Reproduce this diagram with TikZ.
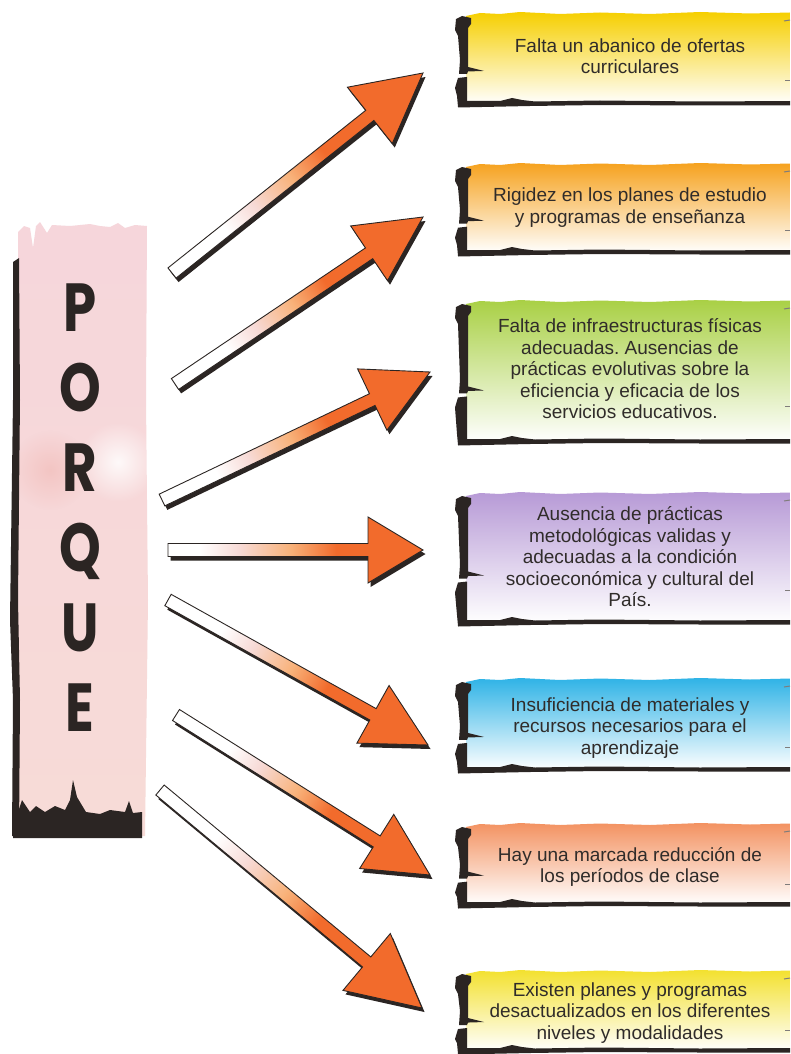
\documentclass[tikz,border=0pt]{standalone}
\usepackage{fontspec}
\setmainfont{Liberation Sans}
\newfontfamily\porquefont{Poppins}[FakeStretch=0.78]
\usetikzlibrary{calc,fadings}
\tikzfading[name=glowfade, inner color=transparent!0, outer color=transparent!100]
\definecolor{arroworange}{HTML}{F26B2C}
\definecolor{arrowlight}{HTML}{F8B27A}
\definecolor{arrowpink}{HTML}{F7DAD6}
\definecolor{inkdark}{HTML}{2B2523}
\definecolor{textgray}{HTML}{302C2A}
\definecolor{porquepink}{HTML}{F6D6DB}
\definecolor{porquepeach}{HTML}{F9E0D3}
\definecolor{porquerose}{HTML}{F2BDBA}
\definecolor{cA}{HTML}{F6CF00}
\definecolor{cB}{HTML}{F6A21E}
\definecolor{cC}{HTML}{A9D045}
\definecolor{cD}{HTML}{B79AD6}
\definecolor{cE}{HTML}{2FB3E6}
\definecolor{cF}{HTML}{F39261}
\definecolor{cG}{HTML}{F3E12F}
\pgfdeclarehorizontalshading{arrowshade}{100bp}{color(0bp)=(white); color(31bp)=(white); color(39bp)=(arrowpink); color(49bp)=(arrowlight); color(58bp)=(arroworange); color(100bp)=(arroworange)}
\newcommand\fatarrow[5]{%
  \coordinate (fb) at ($(#2)!#3pt!(#1)$);
  \coordinate (fp1) at ($(#1)!6.5pt!90:(#2)$);
  \coordinate (fp2) at ($(fb)!6.5pt!-90:(#1)$);
  \coordinate (fp3) at ($(fb)!#4pt!-90:(#1)$);
  \coordinate (fp5) at ($(fb)!#4pt!90:(#1)$);
  \coordinate (fp6) at ($(fb)!6.5pt!90:(#1)$);
  \coordinate (fp7) at ($(#1)!6.5pt!-90:(#2)$);
  \fill[arrowshadow] (fp1) -- (fp2) -- (fp3) -- (#2) -- (fp5) -- (fp6) -- (fp7) -- cycle;
  \shadedraw[arrowbody, shading angle=#5] (fp1) -- (fp2) -- (fp3) -- (#2) -- (fp5) -- (fp6) -- (fp7) -- cycle;
}
\newcommand\tornbox[6]{%
  \pgfmathsetmacro\nt{#1+0.63*(#2-#1)}
  \pgfmathsetmacro\qt{#1+0.75*(#2-#1)}
  \shade[top color=#3, middle color=#3!55!white, bottom color=white]
    (466,#1+4) -- (480,#1+1) -- (500,#1+2) -- (520,#1) -- (560,#1+2) -- (600,#1+0.5) -- (650,#1+2) -- (700,#1) -- (750,#1+1.5) -- (790,#1+0.5) -- (790,#2) -- (466,#2) -- cycle;
  \fill[inkdark] (456,#1+7) -- (462,#1+4) -- (471,#1+6) -- (471,#1+12) -- (468,#1+16) -- (468,\nt-3) -- (484,\nt+1) -- (468,\nt+1.5) -- (467,\nt+4) -- (459,\nt+4) -- (460,\nt-10) -- (458,#1+24) -- (455,#1+18) -- cycle;
  \fill[inkdark] (458,\nt+8) -- (467,\nt+7) -- (467,#2-3) -- (458,#2+3) -- (457,#2-8) -- (455,\nt+18) -- cycle;
  \fill[inkdark] (458,#2-3) -- (500,#2-3) -- (512,#2-6) -- (522,#2-4) -- (535,#2-2.5) -- (600,#2-3.5) -- (700,#2-2.5) -- (790,#2-3) -- (790,#2+1.5) -- (700,#2+1.5) -- (600,#2+1) -- (530,#2+2) -- (458,#2+3.5) -- cycle;
  \draw[edgetick] (784,#1+9) -- (790,#1+8);
  \draw[edgetick] (785,\qt) -- (790,\qt);
  \node[boxtext] (#4) at (630,#5) {#6};
}
\begin{document}
\frenchspacing
\begin{tikzpicture}[x=1pt,y=-1pt,
  arrowshadow/.style={fill=inkdark, transform canvas={shift={(2.5pt,-4pt)}}},
  arrowbody/.style={shading=arrowshade, draw=inkdark, line width=0.9pt, line join=miter},
  boxtext/.style={font=\fontsize{19}{21.5}\selectfont, text=textgray, align=center, inner sep=0pt},
  edgetick/.style={draw=inkdark!60, line width=1pt},
  porqueletters/.style={font=\porquefont\bfseries\fontsize{68}{80}\selectfont, text=inkdark, align=center, inner sep=0pt}]
\useasboundingbox (0,0) rectangle (790,1054);
\fill[white] (0,0) rectangle (790,1054);

% ---- PORQUE strip ----
\shade[top color=porquepink, middle color=porquepeach, bottom color=porquepink!50!porquepeach]
  (18,232) -- (24,226) -- (30,228) -- (33,248) -- (36,226) -- (40,222) -- (47,233) -- (52,225) -- (70,226) -- (90,224) -- (100,226) -- (110,227) -- (118,223) -- (125,228) -- (135,225) -- (147,226)
  -- (146,400) -- (148,600) -- (145,836) -- (18,836) -- cycle;
\fill[porquerose, opacity=0.7, path fading=glowfade] (50,470) circle (40);
\fill[white, opacity=0.85, path fading=glowfade] (118,462) circle (40);
\fill[inkdark] (13,262) -- (19,258) -- (20,400) -- (18,600) -- (20,700) -- (19,836) -- (12,836) -- (13,700) -- (10,620) -- (13,400) -- cycle;
\fill[inkdark] (13,838) -- (142,838) -- (142,812) -- (133,813) -- (129,801) -- (125,812) -- (110,810) -- (100,814) -- (86,812) -- (77,797) -- (73,780) -- (70,800) -- (65,810) -- (55,806) -- (45,812) -- (36,806) -- (30,812) -- (22,800) -- (18,812) -- (13,812) -- cycle;
\node[porqueletters] (porque) at (80,508) {P\\O\\R\\Q\\U\\E};

% ---- boxes ----
\tornbox{12}{104}{cA}{b1}{56}{Falta un abanico de ofertas\\curriculares}
\tornbox{163}{253}{cB}{b2}{207.5}{Rigidez en los planes de estudio\\y programas de enseñanza}
\tornbox{300}{442}{cC}{b3}{369}{Falta de infraestructuras físicas\\adecuadas. Ausencias de\\prácticas evolutivas sobre la\\eficiencia y eficacia de los\\servicios educativos.}
\tornbox{492}{623}{cD}{b4}{557}{Ausencia de prácticas\\metodológicas validas y\\adecuadas a la condición\\socioeconómica y cultural del\\País.}
\tornbox{678}{770}{cE}{b5}{728}{Insuficiencia de materiales y\\recursos necesarios para el\\aprendizaje}
\tornbox{823}{905}{cF}{b6}{867}{Hay una marcada reducción de\\los períodos de clase}
\tornbox{970}{1051}{cG}{b7}{1013}{Existen planes y programas\\desactualizados en los diferentes\\niveles y modalidades}

% ---- arrows ----
\coordinate (t1) at (172,273);  \coordinate (h1) at (423,73);
\coordinate (t2) at (175,384);  \coordinate (h2) at (423,217);
\coordinate (t3) at (162,500);  \coordinate (h3) at (430,372);
\coordinate (t4) at (168,550);  \coordinate (h4) at (423,550);
\coordinate (t5) at (168,600);  \coordinate (h5) at (428,745);
\coordinate (t6) at (176,715);  \coordinate (h6) at (430,875);
\coordinate (t7) at (160,790);  \coordinate (h7) at (422,1008);
\fatarrow{t1}{h1}{68}{36}{38.5}
\fatarrow{t2}{h2}{65}{33}{34}
\fatarrow{t3}{h3}{64}{34}{25.5}
\fatarrow{t4}{h4}{55}{33}{0}
\fatarrow{t5}{h5}{63}{33}{-29.1}
\fatarrow{t6}{h6}{63}{32}{-32.2}
\fatarrow{t7}{h7}{72}{37}{-39.8}
\end{tikzpicture}
\end{document}
